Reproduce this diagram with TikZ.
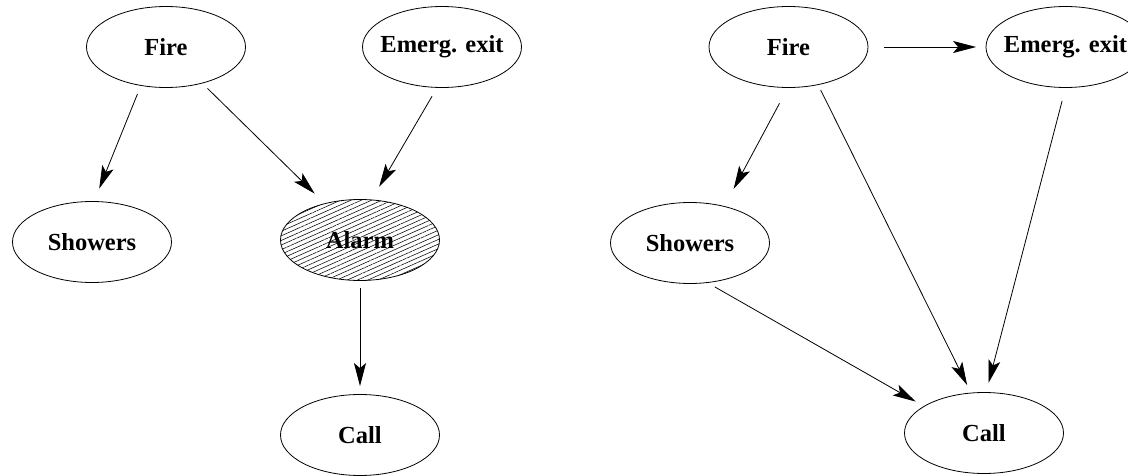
\documentclass[tikz,border=0pt]{standalone}
\usepackage{fontspec}
\setmainfont{Liberation Serif}
\usetikzlibrary{shapes.geometric,arrows.meta,patterns.meta}
\begin{document}
\begin{tikzpicture}[x=1pt,y=-1pt,
  bn/.style={ellipse,draw,line width=0.8pt,minimum width=159pt,minimum height=81pt,inner sep=0pt,
    font=\fontsize{24.5}{28}\selectfont\bfseries},
  arr/.style={-{Stealth[length=23pt,width=12pt,inset=5pt]},line width=0.8pt}]
\useasboundingbox (0,0) rectangle (1128,476);
% left graph
\node[bn] (F1) at (166,47) {\makebox[0pt]{Fire}};
\node[bn] (E1) at (442,47) {\makebox[0pt]{Emerg. exit}};
\node[bn] (S1) at (92,242) {\makebox[0pt]{Showers}};
\node[bn,pattern={Lines[angle=24,distance=4.2pt,line width=0.55pt]}] (A1) at (360,240) {\makebox[0pt]{Alarm}};
\node[bn] (C1) at (360,435) {\makebox[0pt]{Call}};
\draw[arr,shorten <=8.9pt,shorten >=13.5pt] (F1.237.3) -- (S1.87.2);
\draw[arr,shorten <=7.1pt,shorten >=14pt] (F1.315.4) -- (A1.134.4);
\draw[arr,shorten <=9.7pt,shorten >=15pt] (E1.263.2) -- (A1.74.5);
\draw[arr,shorten <=7pt,shorten >=8pt] (A1.south) -- (C1.north);
% right graph
\node[bn] (F2) at (788.5,47) {\makebox[0pt]{Fire}};
\node[bn] (E2) at (1065.5,47) {\makebox[0pt]{Emerg. exit}};
\node[bn] (S2) at (690,243) {\makebox[0pt]{Showers}};
\node[bn] (C2) at (984,433) {\makebox[0pt]{Call}};
\draw[arr,shorten <=15.5pt,shorten >=9.5pt] (F2.east) -- (E2.west);
\draw[arr,shorten <=17.5pt,shorten >=19.5pt] (F2.269.5) -- (S2.47.3);
\draw[arr,shorten <=5.7pt,shorten >=8.5pt] (F2.308.6) -- (C2.108.4);
\draw[arr,shorten <=13.5pt,shorten >=9.5pt] (E2.270.5) -- (C2.87.7);
\draw[arr,shorten <=8.2pt,shorten >=9.3pt] (S2.294.1) -- (C2.156.5);
\end{tikzpicture}
\end{document}
